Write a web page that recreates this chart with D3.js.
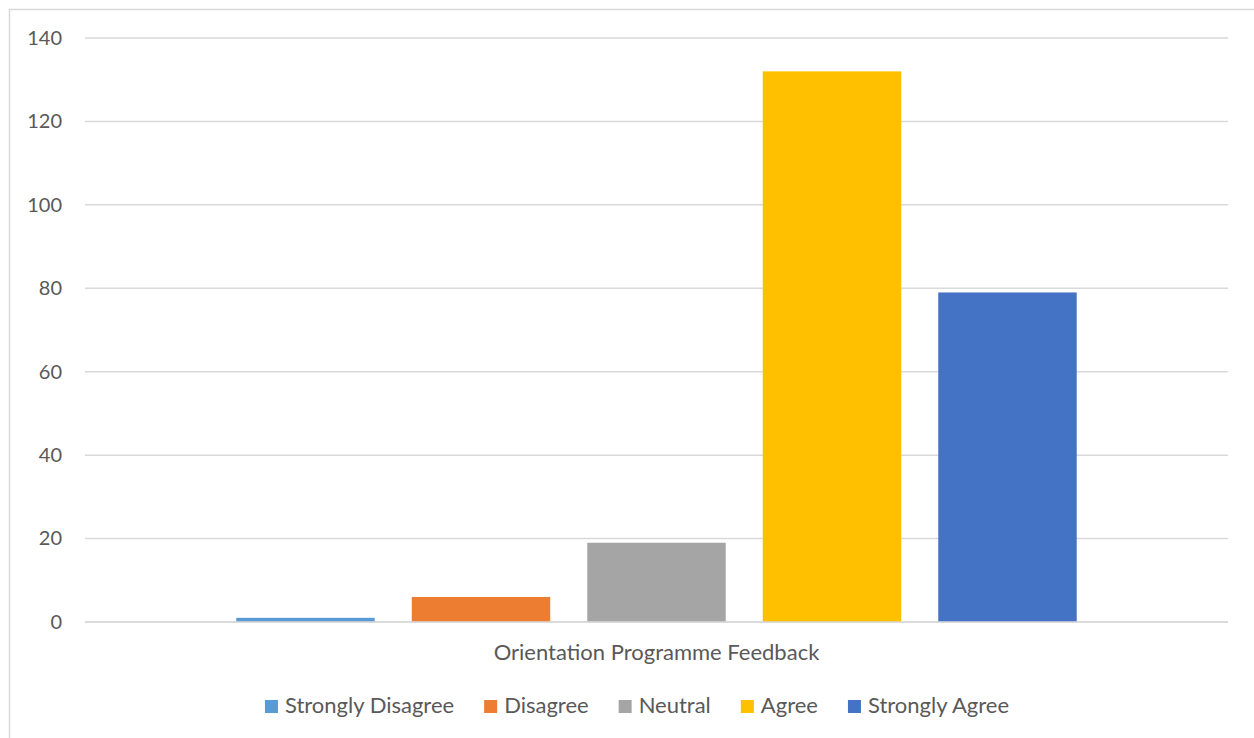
<!DOCTYPE html>
<html>
<head>
<meta charset="utf-8">
<script src="https://cdn.jsdelivr.net/npm/d3@7"></script>
<style>
  html, body { margin: 0; padding: 0; background: #fff; }
  svg { display: block; font-family: Lato, "Open Sans", sans-serif; }
</style>
</head>
<body>
<div id="chart"></div>
<script>
const categoryLabel = "Orientation Programme Feedback";
const seriesNames = ["Strongly Disagree", "Disagree", "Neutral", "Agree", "Strongly Agree"];
const seriesValues = [1, 6, 19, 132, 79];
const seriesColors = ["#5B9BD5", "#ED7D31", "#A5A5A5", "#FFC000", "#4472C4"];
const yTicks = [0, 20, 40, 60, 80, 100, 120, 140];

const width = 1254, height = 738;
const plot = { left: 85, right: 1228, top: 38, bottom: 622 };

const svg = d3.select("#chart").append("svg")
    .attr("width", width)
    .attr("height", height);

// chart border
svg.append("rect")
    .attr("x", 9.5).attr("y", 9.5)
    .attr("width", width + 20).attr("height", height + 20)
    .attr("fill", "#fff")
    .attr("stroke", "#D9D9D9")
    .attr("stroke-width", 1.5);

const yScale = d3.scaleLinear()
    .domain([0, 140])
    .range([plot.bottom, plot.top]);

const xScale = d3.scaleBand()
    .domain(seriesNames)
    .range([plot.left, plot.right])
    .paddingInner(0.211)
    .paddingOuter(0.862);

// gridlines
svg.append("g")
    .selectAll("line")
    .data(yTicks)
    .enter()
    .append("line")
    .attr("x1", plot.left)
    .attr("x2", plot.right)
    .attr("y1", d => yScale(d))
    .attr("y2", d => yScale(d))
    .attr("stroke", "#D9D9D9")
    .attr("stroke-width", 1.5);

// y tick labels
const yAxis = d3.axisLeft(yScale).tickValues(yTicks).tickSize(0).tickPadding(0);
const yAxisG = svg.append("g")
    .attr("transform", `translate(62, 0)`)
    .call(yAxis);
yAxisG.select(".domain").remove();
yAxisG.selectAll("text")
    .attr("font-family", "Lato, 'Open Sans', sans-serif")
    .attr("font-size", 20)
    .attr("fill", "#595959");

// bars
svg.append("g")
    .selectAll("rect")
    .data(seriesValues)
    .enter()
    .append("rect")
    .attr("x", (d, i) => xScale(seriesNames[i]))
    .attr("y", d => yScale(d))
    .attr("width", xScale.bandwidth())
    .attr("height", d => yScale(0) - yScale(d))
    .attr("fill", (d, i) => seriesColors[i]);

// baseline drawn on top of bars
svg.append("line")
    .attr("x1", plot.left).attr("x2", plot.right)
    .attr("y1", yScale(0)).attr("y2", yScale(0))
    .attr("stroke", "#D9D9D9")
    .attr("stroke-width", 1.5);

// category label
svg.append("text")
    .attr("x", (plot.left + plot.right) / 2)
    .attr("y", 660)
    .attr("text-anchor", "middle")
    .attr("font-size", 22)
    .attr("fill", "#595959")
    .text(categoryLabel);

// legend
const legend = svg.append("g");
let lx = 0;
seriesNames.forEach((name, i) => {
    const item = legend.append("g").attr("transform", `translate(${lx}, 0)`);
    item.append("rect")
        .attr("x", 0).attr("y", -13)
        .attr("width", 13).attr("height", 13)
        .attr("fill", seriesColors[i]);
    const t = item.append("text")
        .attr("x", 20).attr("y", 0)
        .attr("font-size", 22)
        .attr("fill", "#595959")
        .text(name);
    lx += 20 + t.node().getComputedTextLength() + 30;
});
const legendWidth = lx - 30;
legend.attr("transform", `translate(${637 - legendWidth / 2}, 713)`);
</script>
</body>
</html>
